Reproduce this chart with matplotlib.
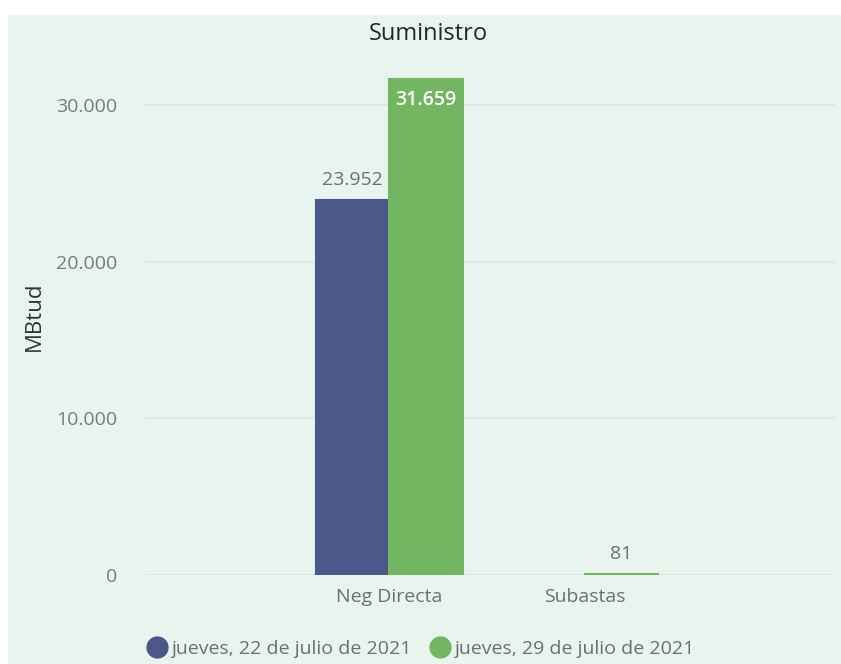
import matplotlib.pyplot as plt
import matplotlib.patches as mpatches
from matplotlib.lines import Line2D
import numpy as np

categorias = ["Neg Directa", "Subastas"]
series = ["jueves, 22 de julio de 2021", "jueves, 29 de julio de 2021"]
valores_22 = [23952, None]
valores_29 = [31659, 81]
colores = ["#4A5788", "#72B662"]
yticks = [0, 10000, 20000, 30000]

plt.rcParams['font.family'] = ['Open Sans', 'DejaVu Sans']

def fmt(v):
    return f"{v:,.0f}".replace(",", ".")

fig = plt.figure(figsize=(8.41, 6.64), dpi=100)
fig.patch.set_facecolor("white")
# fondo verde claro (deja un margen blanco arriba e izquierda)
fondo = mpatches.Rectangle((8/841, 0), 1, (664-15)/664, transform=fig.transFigure,
                           facecolor="#E7F5EE", edgecolor="none", zorder=-10)
fig.patches.append(fondo)

ax = fig.add_axes([145/841, 89/664, 690/841, 517/664])
ax.set_facecolor("none")

x = np.arange(len(categorias))
w = 0.375
for i, (vals, col) in enumerate([(valores_22, colores[0]), (valores_29, colores[1])]):
    off = (i - 0.5) * w
    for xi, v in zip(x, vals):
        if v is None:
            continue
        ax.bar(xi + off, v, width=w, color=col, edgecolor=col, linewidth=1.5, zorder=3)
        if v > 28000:
            ax.text(xi + off, v - 700, fmt(v), ha="center", va="top", color="white",
                    fontsize=14, fontweight="semibold", zorder=4)
        else:
            ax.text(xi + off, v + 700, fmt(v), ha="center", va="bottom", color="#6E6E6E",
                    fontsize=14, zorder=4)

ax.set_xlim(-1.25, 2.28)
ax.set_ylim(0, 33000)
ax.set_yticks(yticks)
ax.set_yticklabels([fmt(t) for t in yticks], color="#7A7A7A", fontsize=14)
ax.set_xticks(x)
ax.set_xticklabels(categorias, color="#6E6E6E", fontsize=14)
ax.tick_params(length=0)
ax.tick_params(axis="y", pad=20)
ax.tick_params(axis="x", pad=9)
ax.grid(axis="y", color="#E2E2E2", linewidth=1.2, zorder=1)
for s in ax.spines.values():
    s.set_visible(False)

ax.set_ylabel("MBtud", fontsize=16, color="#333333", labelpad=8)
fig.text(428/841, 1 - 34/664, "Suministro", ha="center", va="center", fontsize=17, color="#252525")

handles = [Line2D([0], [0], marker="o", linestyle="none", markersize=15,
                  markerfacecolor=c, markeredgecolor=c) for c in colores]
fig.legend(handles, series, loc="center left", bbox_to_anchor=(130/841, 1 - 649/664),
           ncol=2, frameon=False, fontsize=14, handletextpad=-0.3, columnspacing=0.5,
           labelcolor="#6E6E6E", borderaxespad=0)

fig.savefig("out.png", dpi=100, facecolor=fig.get_facecolor())
